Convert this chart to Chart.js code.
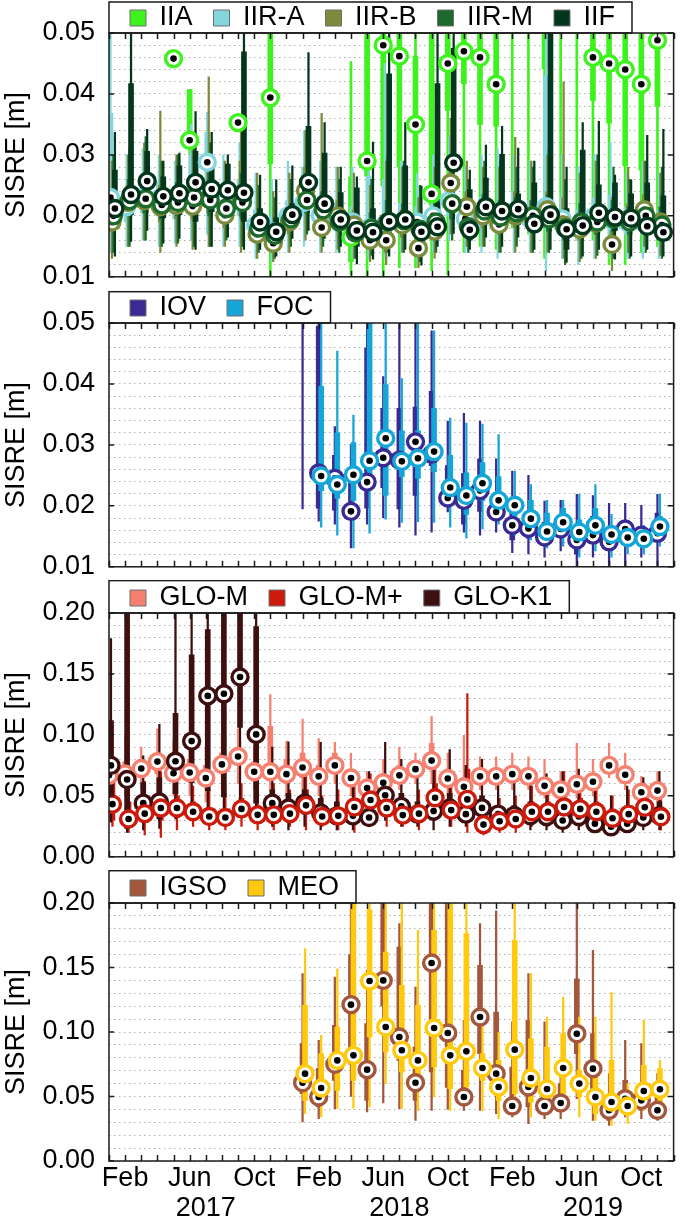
<!DOCTYPE html>
<html><head><meta charset="utf-8">
<script src="https://cdn.jsdelivr.net/npm/chart.js@4.4.1/dist/chart.umd.min.js"></script>
<style>
html,body{margin:0;padding:0;background:#fff;}
#wrap{position:relative;width:685px;height:1227px;overflow:hidden;background:#fff;}
canvas{position:absolute;left:0;}
</style></head><body>
<div id="wrap">
<canvas id="c1" width="685" height="307" style="top:0px"></canvas>
<canvas id="c2" width="685" height="307" style="top:290px"></canvas>
<canvas id="c3" width="685" height="307" style="top:580px"></canvas>
<canvas id="c4" width="685" height="357" style="top:870px"></canvas>
</div>
<script>
// ---------- categories / tick labels ----------
const MONTHS = ['Jan','Feb','Mar','Apr','May','Jun','Jul','Aug','Sep','Oct','Nov','Dec'];
const YEARS = ['2017','2018','2019'];
const SHOWN_MONTHS = ['Feb','Jun','Oct'];
const YEAR_LABEL_MONTH = 'Jul';
const categories = YEARS.flatMap(y => MONTHS.map(m => m + ' ' + y));

// ---------- data: [whisker low, q1, median, q3, whisker high] per month (Jan 2017 ...) ----------
// GPS
const IIA = [null,null,null,null,
[.0458,.0458,.0458,.0458,.0458],
[.0300,.0316,.0324,.0407,.0407],
null,null,
[.0353,.0353,.0353,.0353,.0353],
null,
[.0100,.0285,.0394,.0550,.0700],
null,null,null,null,
[.0103,.0125,.0165,.0264,.0453],
[.0100,.0265,.0290,.0600,.0800],
[.0100,.0249,.0480,.0600,.0800],
[.0115,.0280,.0462,.0600,.0800],
[.0115,.0200,.0350,.0462,.0600],
[.0110,.0217,.0236,.0600,.0800],
[.0103,.0373,.0450,.0600,.0700],
[.0140,.0417,.0470,.0600,.0700],
[.0150,.0350,.0460,.0600,.0700],
[.0145,.0347,.0416,.0600,.0700],
[.0180,.0550,.0600,.0650,.0700],
[.0170,.0550,.0600,.0650,.0700],
[.0130,.0441,.0550,.0600,.0700],
[.0170,.0550,.0600,.0650,.0700],
[.0160,.0550,.0600,.0650,.0700],
[.0160,.0389,.0460,.0600,.0700],
[.0120,.0352,.0450,.0600,.0700],
[.0120,.0282,.0440,.0600,.0700],
[.0140,.0275,.0416,.0600,.0700],
[.0150,.0380,.0488,.0600,.0700]];
const IIR_A = [
[.0140,.0197,.0230,.0368,.0600],[.0150,.0190,.0215,.0240,.0300],[.0160,.0205,.0230,.0265,.0310],
[.0150,.0200,.0228,.0255,.0300],[.0155,.0195,.0218,.0245,.0290],[.0160,.0200,.0220,.0300,.0350],
[.0170,.0249,.0288,.0337,.0370],[.0150,.0195,.0222,.0250,.0300],[.0150,.0200,.0225,.0260,.0320],
[.0130,.0165,.0185,.0210,.0270],[.0125,.0155,.0175,.0200,.0260],[.0140,.0180,.0200,.0225,.0290],
[.0150,.0200,.0222,.0280,.0340],[.0140,.0180,.0200,.0230,.0290],[.0140,.0175,.0195,.0220,.0280],
[.0130,.0170,.0190,.0215,.0280],[.0130,.0165,.0180,.0265,.0300],[.0130,.0165,.0185,.0260,.0450],
[.0140,.0170,.0190,.0220,.0290],[.0130,.0170,.0190,.0215,.0270],[.0140,.0180,.0200,.0235,.0300],
[.0160,.0200,.0225,.0260,.0330],[.0140,.0175,.0195,.0220,.0280],[.0140,.0180,.0200,.0230,.0300],
[.0130,.0170,.0190,.0220,.0310],[.0140,.0185,.0205,.0240,.0300],[.0140,.0175,.0195,.0225,.0290],
[.0110,.0180,.0215,.0430,.0500],[.0130,.0175,.0195,.0230,.0300],[.0120,.0160,.0180,.0210,.0280],
[.0130,.0175,.0200,.0230,.0300],[.0130,.0170,.0195,.0235,.0320],[.0130,.0170,.0190,.0215,.0270],
[.0130,.0170,.0190,.0220,.0290],[.0130,.0165,.0185,.0210,.0270]];
const IIR_B = [
[.0130,.0175,.0190,.0215,.0290],[.0150,.0200,.0222,.0250,.0300],[.0160,.0205,.0225,.0255,.0320],
[.0140,.0190,.0215,.0250,.0372],[.0150,.0195,.0217,.0245,.0300],[.0145,.0195,.0216,.0250,.0310],
[.0150,.0205,.0228,.0290,.0428],[.0150,.0180,.0201,.0230,.0290],[.0140,.0200,.0230,.0290,.0340],
[.0130,.0155,.0170,.0200,.0270],[.0125,.0140,.0155,.0180,.0240],[.0140,.0170,.0190,.0215,.0270],
[.0160,.0210,.0241,.0280,.0340],[.0140,.0165,.0181,.0230,.0368],[.0145,.0180,.0200,.0225,.0280],
[.0130,.0165,.0185,.0210,.0270],[.0125,.0145,.0160,.0190,.0250],[.0120,.0140,.0160,.0190,.0290],
[.0140,.0165,.0185,.0210,.0280],[.0115,.0135,.0147,.0170,.0230],[.0130,.0160,.0175,.0205,.0280],
[.0170,.0225,.0254,.0290,.0360],[.0150,.0195,.0215,.0240,.0290],[.0150,.0180,.0200,.0225,.0280],
[.0140,.0170,.0186,.0210,.0280],[.0140,.0180,.0200,.0240,.0329],[.0140,.0180,.0200,.0225,.0290],
[.0140,.0185,.0210,.0240,.0300],[.0130,.0165,.0185,.0230,.0420],[.0125,.0160,.0178,.0205,.0270],
[.0130,.0170,.0188,.0215,.0290],[.0110,.0140,.0153,.0175,.0230],[.0140,.0175,.0195,.0220,.0280],
[.0150,.0190,.0210,.0235,.0290],[.0135,.0170,.0190,.0215,.0270]];
const IIR_M = [
[.0140,.0180,.0200,.0240,.0300],[.0150,.0200,.0225,.0260,.0310],[.0160,.0205,.0228,.0270,.0330],
[.0150,.0195,.0218,.0245,.0290],[.0155,.0200,.0222,.0255,.0300],[.0150,.0205,.0230,.0265,.0310],
[.0150,.0200,.0226,.0270,.0320],[.0160,.0190,.0212,.0240,.0280],[.0150,.0195,.0222,.0270,.0330],
[.0140,.0165,.0180,.0205,.0250],[.0130,.0150,.0168,.0190,.0230],[.0150,.0180,.0195,.0215,.0260],
[.0170,.0205,.0226,.0260,.0320],[.0150,.0190,.0210,.0240,.0300],[.0140,.0175,.0190,.0215,.0260],
[.0130,.0158,.0172,.0195,.0240],[.0135,.0165,.0180,.0205,.0260],[.0140,.0175,.0190,.0225,.0300],
[.0140,.0175,.0192,.0220,.0290],[.0125,.0160,.0178,.0200,.0250],[.0140,.0170,.0190,.0225,.0310],
[.0160,.0195,.0220,.0260,.0330],[.0140,.0165,.0182,.0205,.0260],[.0150,.0185,.0208,.0235,.0290],
[.0140,.0180,.0198,.0225,.0290],[.0150,.0185,.0205,.0230,.0280],[.0140,.0180,.0200,.0225,.0280],
[.0140,.0175,.0195,.0235,.0310],[.0120,.0160,.0180,.0205,.0260],[.0130,.0170,.0190,.0220,.0290],
[.0135,.0170,.0190,.0220,.0300],[.0130,.0175,.0195,.0225,.0280],[.0130,.0170,.0190,.0215,.0260],
[.0140,.0180,.0200,.0225,.0290],[.0130,.0165,.0185,.0215,.0280]];
const IIF = [
[.0134,.0197,.0212,.0275,.0337],[.0158,.0202,.0235,.0417,.0600],[.0176,.0217,.0257,.0306,.0342],
[.0155,.0197,.0232,.0264,.0290],[.0163,.0202,.0237,.0282,.0303],[.0145,.0191,.0255,.0306,.0371],
[.0150,.0207,.0244,.0280,.0337],[.0165,.0202,.0242,.0285,.0300],[.0145,.0191,.0238,.0469,.0600],
[.0145,.0171,.0190,.0212,.0267],[.0134,.0155,.0174,.0197,.0259],[.0163,.0187,.0202,.0220,.0282],
[.0176,.0238,.0255,.0347,.0468],[.0163,.0197,.0220,.0303,.0353],[.0150,.0185,.0194,.0238,.0280],
[.0121,.0150,.0176,.0246,.0264],[.0129,.0150,.0173,.0212,.0321],[.0134,.0171,.0191,.0433,.0600],
[.0145,.0176,.0194,.0282,.0353],[.0119,.0155,.0174,.0197,.0249],[.0150,.0171,.0182,.0417,.0600],
[.0171,.0280,.0287,.0475,.0600],[.0145,.0160,.0177,.0243,.0275],[.0165,.0197,.0215,.0262,.0316],
[.0150,.0191,.0208,.0301,.0347],[.0165,.0186,.0211,.0236,.0311],[.0145,.0176,.0187,.0254,.0290],
[.0145,.0186,.0202,.0550,.0650],[.0124,.0145,.0178,.0212,.0280],[.0134,.0176,.0184,.0308,.0353],
[.0145,.0176,.0205,.0251,.0355],[.0129,.0176,.0198,.0254,.0267],[.0134,.0176,.0196,.0236,.0259],
[.0145,.0176,.0183,.0254,.0332],[.0134,.0165,.0173,.0233,.0342]];
// Galileo
const IOV = [null,null,null,null,null,null,null,null,null,null,null,null,
[.0195,.0550,.0600,.0700,.0900],[.0175,.0196,.0254,.0495,.0700],[.0170,.0193,.0245,.0283,.0330],
[.0131,.0183,.0191,.0256,.0300],[.0170,.0196,.0239,.0459,.0650],[.0180,.0230,.0279,.0360,.0412],
[.0165,.0195,.0275,.0360,.0600],[.0152,.0217,.0305,.0362,.0550],[.0157,.0266,.0285,.0388,.0487],
[.0190,.0204,.0213,.0266,.0339],[.0157,.0170,.0209,.0253,.0352],[.0152,.0191,.0225,.0277,.0339],
[.0157,.0178,.0190,.0222,.0277],[.0123,.0144,.0168,.0188,.0257],[.0121,.0147,.0163,.0188,.0250],
[.0116,.0142,.0149,.0173,.0208],[.0126,.0152,.0162,.0183,.0209],[.0100,.0121,.0144,.0170,.0219],
[.0116,.0147,.0152,.0183,.0217],[.0100,.0136,.0141,.0162,.0204],[.0100,.0142,.0162,.0173,.0204],
[.0116,.0142,.0152,.0162,.0201],[.0100,.0152,.0155,.0188,.0219]];
const FOC = [null,null,null,null,null,null,null,null,null,null,null,null,null,
[.0165,.0225,.0249,.0396,.0600],[.0152,.0212,.0235,.0320,.0454],[.0131,.0209,.0251,.0304,.0349],
[.0155,.0230,.0274,.0550,.0700],[.0178,.0217,.0311,.0399,.0550],[.0173,.0248,.0273,.0323,.0409],
[.0174,.0245,.0278,.0323,.0520],[.0173,.0256,.0289,.0360,.0487],[.0165,.0214,.0230,.0283,.0344],
[.0147,.0186,.0217,.0254,.0336],[.0162,.0209,.0237,.0271,.0334],[.0170,.0191,.0209,.0248,.0317],
[.0152,.0183,.0201,.0212,.0257],[.0144,.0168,.0179,.0209,.0235],[.0131,.0147,.0158,.0188,.0209],
[.0134,.0157,.0173,.0196,.0209],[.0116,.0142,.0157,.0177,.0219],[.0126,.0157,.0168,.0196,.0235],
[.0116,.0136,.0153,.0165,.0186],[.0121,.0136,.0148,.0165,.0173],[.0121,.0134,.0146,.0157,.0168],
[.0134,.0152,.0166,.0183,.0219]];
// GLONASS
const GLO_M = [
[.045,.060,.0668,.075,.095],[.050,.062,.068,.078,.098],[.055,.065,.0724,.080,.090],
[.050,.068,.0781,.085,.105],[.050,.062,.0686,.078,.095],[.050,.062,.0691,.080,.100],
[.045,.058,.0647,.075,.090],[.055,.068,.0758,.085,.100],[.060,.075,.0823,.090,.105],
[.055,.063,.0698,.078,.090],[.054,.065,.0698,.107,.133],[.050,.060,.0678,.080,.095],
[.055,.065,.0732,.085,.113],[.050,.060,.066,.075,.097],[.060,.068,.075,.085,.094],
[.050,.058,.0647,.072,.085],[.045,.052,.0564,.062,.070],[.050,.055,.0608,.068,.080],
[.055,.062,.0668,.075,.090],[.060,.066,.0719,.078,.085],[.060,.072,.0789,.093,.115],
[.050,.058,.0642,.072,.085],[.045,.052,.0574,.065,.0996],[.055,.060,.066,.072,.082],
[.055,.062,.066,.072,.082],[.055,.063,.0678,.074,.085],[.055,.062,.066,.072,.082],
[.048,.053,.0582,.065,.080],[.045,.050,.0549,.060,.070],[.048,.055,.0595,.066,.093],
[.050,.057,.0616,.068,.080],[.065,.070,.075,.082,.093],[.055,.062,.0673,.074,.085],
[.045,.050,.053,.058,.066],[.045,.050,.0543,.062,.070]];
const GLO_MP = [
[.025,.030,.0432,.062,.108],[.020,.025,.031,.045,.055],[.018,.028,.0354,.045,.062],
[.016,.030,.040,.050,.070],[.022,.032,.040,.050,.065],[.025,.032,.037,.045,.058],
[.022,.028,.0331,.040,.055],[.022,.028,.0323,.038,.052],[.025,.034,.0393,.048,.060],
[.022,.030,.0344,.042,.055],[.022,.030,.0344,.045,.060],[.025,.030,.0354,.042,.055],
[.022,.035,.0422,.055,.075],[.025,.030,.0331,.040,.050],[.022,.030,.0336,.040,.055],
[.020,.035,.0409,.048,.060],[.030,.040,.0466,.055,.068],[.025,.035,.040,.048,.060],
[.025,.030,.0342,.040,.052],[.022,.030,.0354,.042,.055],[.030,.042,.0484,.060,.080],
[.025,.034,.0383,.045,.058],[.020,.035,.0471,.072,.1338],[.018,.022,.0264,.032,.045],
[.020,.025,.0292,.035,.048],[.020,.026,.031,.036,.050],[.025,.032,.037,.045,.058],
[.025,.032,.037,.045,.060],[.025,.035,.0409,.052,.070],[.025,.034,.0393,.048,.062],
[.022,.032,.037,.045,.060],[.020,.027,.0316,.038,.050],[.022,.030,.035,.042,.055],
[.025,.035,.0406,.048,.060],[.022,.028,.0329,.040,.055]];
const GLO_K1 = [
[.0285,.044,.075,.1118,.179],[.020,.0233,.0634,.250,.300],[.022,.0336,.044,.0608,.0828],
[.0233,.031,.045,.0647,.1087],[.031,.0517,.0784,.1177,.220],[.0388,.0608,.0949,.1656,.220],
[.031,.0543,.132,.1863,.250],[.0362,.0492,.1337,.250,.300],[.0362,.1061,.1475,.250,.300],
[.0285,.044,.1004,.1889,.220],[.025,.035,.044,.055,.090],[.022,.032,.040,.052,.0944],
[.025,.035,.044,.055,.080],[.022,.030,.036,.048,.094],[.022,.028,.0336,.045,.080],
[.022,.028,.0336,.040,.070],[.025,.030,.0323,.045,.070],[.030,.040,.0505,.065,.094],
[.025,.035,.0414,.052,.080],[.025,.030,.035,.045,.070],[.022,.030,.0375,.048,.085],
[.025,.032,.040,.052,.088],[.025,.030,.035,.045,.075],[.022,.033,.0401,.050,.080],
[.025,.030,.035,.042,.065],[.025,.030,.034,.042,.065],[.022,.028,.0337,.045,.070],
[.022,.028,.033,.042,.068],[.020,.025,.0298,.040,.070],[.022,.028,.033,.045,.072],
[.020,.024,.0272,.035,.060],[.018,.022,.0246,.030,.050],[.020,.024,.0272,.035,.058],
[.022,.028,.0323,.040,.065],[.022,.028,.0337,.045,.070]];
// BeiDou
const IGSO = [null,null,null,null,null,null,null,null,null,null,null,null,
[.0302,.0522,.0607,.0910,.1452],[.0328,.0419,.0496,.0716,.0935],[.0406,.0625,.0750,.1052,.1426],
[.0500,.0750,.1212,.1600,.2200],[.0380,.0470,.0708,.1065,.1480],[.0450,.1200,.1400,.2500,.3000],
[.0406,.0780,.0961,.1659,.1840],[.0315,.0470,.0607,.0884,.1349],[.0393,.0690,.1535,.2500,.3000],
[.0400,.0570,.0992,.2200,.2800],[.0393,.0440,.0496,.0703,.1090],[.0393,.0832,.1116,.1517,.1840],
[.0367,.0522,.0677,.1155,.1940],[.0341,.0367,.0426,.0729,.1078],[.0289,.0419,.0574,.1090,.1452],
[.0328,.0367,.0426,.0522,.1078],[.0328,.0393,.0450,.0600,.0780],[.0483,.0832,.0987,.1413,.2000],
[.0315,.0483,.0716,.0987,.1633],[.0276,.0315,.0393,.0444,.0677],[.0341,.0419,.0483,.0625,.0935],
[.0328,.0393,.0470,.0600,.0910],[.0315,.0354,.0393,.0496,.0677]];
const MEO = [null,null,null,null,null,null,null,null,null,null,null,null,
[.0367,.0470,.0677,.1207,.1646],[.0341,.0470,.0566,.0832,.0974],[.0406,.0548,.0780,.1039,.1490],
[.0410,.0625,.0819,.2500,.3000],[.0420,.0961,.1395,.1948,.2200],[.0600,.0845,.1039,.1620,.2000],
[.0406,.0690,.0858,.1362,.2100],[.0393,.0625,.0780,.1207,.1788],[.0496,.0729,.1031,.1788,.2500],
[.0390,.0561,.0819,.2400,.3000],[.0470,.0574,.0850,.1762,.2100],[.0393,.0625,.0721,.0832,.1052],
[.0328,.0470,.0574,.0780,.1000],[.0393,.0522,.0863,.1711,.2200],[.0341,.0457,.0643,.0948,.1452],
[.0367,.0444,.0558,.0884,.1116],[.0457,.0522,.0721,.0987,.1271],[.0341,.0496,.0600,.0703,.1116],
[.0315,.0367,.0496,.0742,.1116],[.0276,.0393,.0457,.0780,.1305],[.0289,.0354,.0426,.0535,.0600],
[.0393,.0470,.0543,.0742,.1090],[.0393,.0457,.0556,.0716,.0780]];

// ---------- styling ----------
const FONT = "'Liberation Sans', Arial, Helvetica, sans-serif";
const FS = 27;
const PX_PER_MONTH = 16.4;

const PANELS = [
  {id:'c1', legTop:2, y:{min:0.01, max:0.05, minor:0.002}, showX:false, series:[
    {name:'IIA',   color:'#3df21d', data:IIA,   offPx:0,   z:0, boxW:5, whiskW:2},
    {name:'IIR-A', color:'#84d6dd', data:IIR_A, offPx:1.5, z:1, boxW:5, whiskW:1.6},
    {name:'IIR-B', color:'#7b8a3b', data:IIR_B, offPx:3,   z:2, boxW:4, whiskW:1.6},
    {name:'IIR-M', color:'#1d6b2c', data:IIR_M, offPx:4.5, z:3, boxW:5, whiskW:1.6},
    {name:'IIF',   color:'#03361d', data:IIF,   offPx:6,   z:4, boxW:5, whiskW:1.6}]},
  {id:'c2', legTop:1.7, y:{min:0.01, max:0.05, minor:0.002}, showX:false, series:[
    {name:'IOV', color:'#3a2a94', data:IOV, offPx:0,   z:0, boxW:5, whiskW:1.6},
    {name:'FOC', color:'#14a6d6', data:FOC, offPx:2.5, z:1, boxW:5, whiskW:1.6}]},
  {id:'c3', legTop:0.6, y:{min:0, max:0.2, minor:0.01}, showX:false, series:[
    {name:'GLO-M',  color:'#f5806f', data:GLO_M,  offPx:0,   z:0, boxW:5, whiskW:1.6},
    {name:'GLO-M+', color:'#cc1b0c', data:GLO_MP, offPx:3.5, z:2, boxW:5, whiskW:1.6},
    {name:'GLO-K1', color:'#3d0f0f', data:GLO_K1, offPx:2,   z:1, boxW:5, whiskW:1.6}]},
  {id:'c4', legTop:0.7, y:{min:0, max:0.2, minor:0.01}, showX:true, series:[
    {name:'IGSO', color:'#a3573d', data:IGSO, offPx:0,   z:0, boxW:5, whiskW:1.6},
    {name:'MEO',  color:'#ffc90e', data:MEO,  offPx:2.5, z:1, boxW:5, whiskW:1.6}]}
];

function xTickLabel(v) {
  const i = Math.round(v);
  if (Math.abs(v - i) > 1e-6 || i < 0 || i >= categories.length) return '';
  const [m, y] = categories[i].split(' ');
  if (SHOWN_MONTHS.includes(m)) return m;
  if (m === YEAR_LABEL_MONTH) return ['', y];
  return '';
}

const LEG_PAD = 21;
const framePlugin = {
  id: 'frame',
  afterLayout(chart) {
    if (chart.legend) chart.legend.top = 4.5 - LEG_PAD;
  },
  afterDatasetsDraw(chart) {
    const {ctx, chartArea: a, scales: {x, y}} = chart;
    ctx.save();
    ctx.strokeStyle = '#1a1a1a';
    ctx.lineWidth = 1.5;
    ctx.beginPath();
    for (let m = Math.ceil(x.min); m <= x.max; m++) {
      const px = Math.round(x.getPixelForValue(m)) + 0.5;
      ctx.moveTo(px, a.bottom); ctx.lineTo(px, a.bottom - 6);
      ctx.moveTo(px, a.top); ctx.lineTo(px, a.top + 6);
    }
    y.ticks.forEach(t => {
      if (!t.label) return;
      const py = y.getPixelForValue(t.value);
      ctx.moveTo(a.left, py); ctx.lineTo(a.left + 5, py);
      ctx.moveTo(a.right, py); ctx.lineTo(a.right - 6, py);
    });
    ctx.stroke();
    ctx.strokeRect(a.left, a.top, a.right - a.left, a.bottom - a.top);
    ctx.restore();
  },
  afterDraw(chart, args, opts) {
    const lg = chart.legend;
    if (!lg || !lg.legendHitBoxes || !lg.legendHitBoxes.length) return;
    const hb = lg.legendHitBoxes;
    let right = 0;
    hb.forEach(h => { right = Math.max(right, h.left + h.width); });
    right += 17;
    const a = chart.chartArea;
    const top = opts.legTop;
    const ctx = chart.ctx;
    ctx.save();
    ctx.strokeStyle = '#1a1a1a';
    ctx.lineWidth = 1.5;
    ctx.strokeRect(a.left, top, right - a.left, a.top - top);
    ctx.restore();
  }
};

function buildDatasets(series) {
  const ds = [];
  series.forEach((s, k) => {
    const off = s.offPx / PX_PER_MONTH;
    const pts = (lo, hi) => s.data.map((v, i) => v ? {x: i + off, y: [v[lo], v[hi]]} : null).filter(Boolean);
    ds.push({type:'bar', label:s.name, isBox:true, data:pts(1,3), backgroundColor:s.color, borderWidth:0,
      barThickness:s.boxW, maxBarThickness:s.boxW, grouped:false, clip:0, order:3000 - 10*k, borderSkipped:false});
    ds.push({type:'bar', label:s.name + ' range', data:pts(0,4), backgroundColor:s.color, borderWidth:0,
      barThickness:s.whiskW, maxBarThickness:s.whiskW, grouped:false, clip:0, order:3001 - 10*k, borderSkipped:false});
  });
  series.forEach(s => {
    const off = s.offPx / PX_PER_MONTH;
    const med = s.data.map((v, i) => v ? {x: i + off, y: v[2]} : null).filter(Boolean);
    ds.push({type:'scatter', label:s.name + ' median', data:med, pointRadius:8, pointBorderWidth:3.4,
      pointBackgroundColor:'#ffffff', pointBorderColor:s.color, showLine:false, clip:0, order:1000 - 10*s.z});
    ds.push({type:'scatter', label:s.name + ' dot', data:med, pointRadius:3.3, pointBorderWidth:0,
      pointBackgroundColor:'#000000', showLine:false, clip:0, order:999 - 10*s.z});
  });
  return ds;
}

PANELS.forEach(p => {
  const yc = p.y;
  new Chart(document.getElementById(p.id), {
    type: 'bar',
    data: { datasets: buildDatasets(p.series) },
    plugins: [framePlugin],
    options: {
      responsive: false,
      animation: false,
      events: [],
      devicePixelRatio: 1,
      layout: { padding: { top: 0, left: 0, right: 3, bottom: p.showX ? 0 : 17 } },
      plugins: {
        frame: { legTop: p.legTop },
        tooltip: { enabled: false },
        legend: {
          display: true, position: 'top', align: 'start', fullSize: false, maxHeight: 33,
          labels: {
            color: '#000', font: { family: FONT, size: FS }, boxWidth: 16, boxHeight: 16, padding: LEG_PAD,
            filter: (item, data) => !!data.datasets[item.datasetIndex].isBox,
            sort: (a, b) => a.datasetIndex - b.datasetIndex,
            generateLabels: chart => Chart.defaults.plugins.legend.labels.generateLabels(chart)
              .map(l => Object.assign(l, { strokeStyle: '#6f6f6f', lineWidth: 1 }))
          }
        }
      },
      scales: {
        x: {
          type: 'linear', min: 0, max: categories.length - 1, offset: false, display: p.showX,
          grid: { display: false, drawTicks: false }, border: { display: false },
          ticks: { stepSize: 1, autoSkip: false, maxRotation: 0, minRotation: 0, padding: 3, color: '#000',
            font: { family: FONT, size: FS, lineHeight: 1.1 }, callback: v => xTickLabel(v) },
          afterFit: s => { if (p.showX) s.height = 66; }
        },
        y: {
          type: 'linear', min: yc.min, max: yc.max,
          ticks: { stepSize: yc.minor, autoSkip: false, padding: 14, color: '#000', font: { family: FONT, size: FS },
            callback: v => (Math.round(v / yc.minor) % 5 === 0) ? v.toFixed(2) : '' },
          grid: { color: '#b0b0b0', lineWidth: 1, drawTicks: false },
          border: { display: false, dash: [1.5, 3.5] },
          title: { display: true, text: 'SISRE [m]', color: '#000', font: { family: FONT, size: FS }, padding: { top: 0, bottom: 0 } },
          afterFit: s => { s.width = 109; }
        }
      }
    }
  });
});
</script>
</body></html>
